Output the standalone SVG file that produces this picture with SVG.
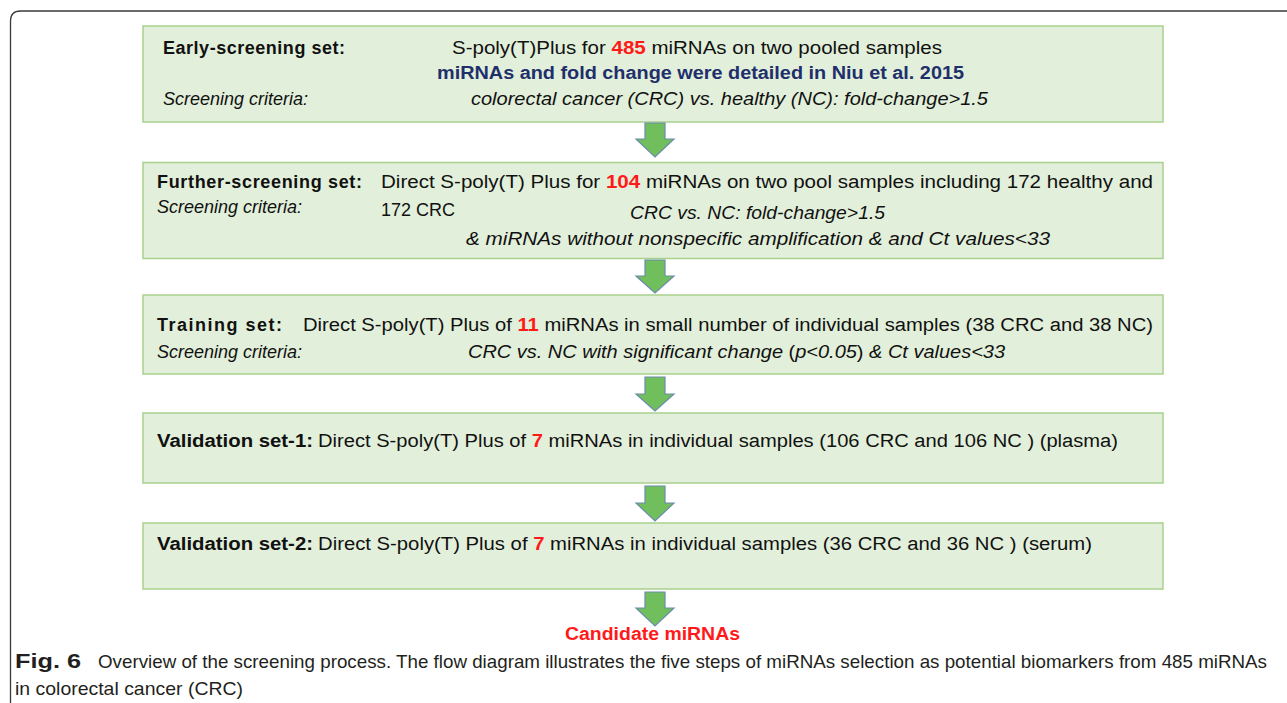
<svg xmlns="http://www.w3.org/2000/svg" width="1287" height="703" viewBox="0 0 1287 703">
<style>
text{font-family:"Liberation Sans",Arial,sans-serif;font-size:18px;fill:#111}
.b{font-weight:bold}
.i{font-style:italic}
.red{fill:#ff1a1a;font-weight:bold}
.navy{fill:#1f2f6b;font-weight:bold}
.box{fill:#e2efda;stroke:#a9d18e;stroke-width:1.5}
.arrow{fill:#71bf5c;stroke:#6a8caa;stroke-width:1.2;stroke-linejoin:miter}
.cap{fill:#231f20;font-size:19px}
.fig{font-size:21px}
</style>
<rect width="1287" height="703" fill="#fff"/>
<path d="M10.5,703 V21 Q10.5,11 20.5,11 H1287" fill="none" stroke="#3a3a3a" stroke-width="1.3"/>

<g id="early-screening">
<rect class="box" x="143" y="26" width="1020" height="96"/>
<text class="b" x="163" y="54" textLength="182" lengthAdjust="spacing">Early-screening  set:</text>
<text x="452" y="54" textLength="490" lengthAdjust="spacingAndGlyphs">S-poly(T)Plus for <tspan class="red">485</tspan> miRNAs on two pooled samples</text>
<text class="navy" x="437" y="79" textLength="527" lengthAdjust="spacingAndGlyphs">miRNAs and fold change were detailed in Niu et al. 2015</text>
<text class="i" x="163" y="105">Screening criteria:</text>
<text class="i" x="471" y="105" textLength="517" lengthAdjust="spacingAndGlyphs">colorectal cancer (CRC) vs. healthy (NC): fold-change&gt;1.5</text>
</g>

<g id="further-screening">
<rect class="box" x="143" y="162.5" width="1020" height="96"/>
<text class="b" x="157" y="188" textLength="205" lengthAdjust="spacing">Further-screening  set:</text>
<text x="381" y="188" textLength="772" lengthAdjust="spacingAndGlyphs">Direct S-poly(T) Plus for <tspan class="red">104</tspan> miRNAs on two pool samples including 172 healthy and</text>
<text class="i" x="157" y="213">Screening criteria:</text>
<text x="381" y="216">172 CRC</text>
<text class="i" x="630" y="219" textLength="255" lengthAdjust="spacingAndGlyphs">CRC vs. NC: fold-change&gt;1.5</text>
<text class="i" x="466" y="245" textLength="584" lengthAdjust="spacingAndGlyphs">&amp; miRNAs without nonspecific amplification &amp; and Ct values&lt;33</text>
</g>

<g id="training">
<rect class="box" x="143" y="295" width="1020" height="79"/>
<text class="b" x="157" y="331" textLength="125" lengthAdjust="spacing">Training  set:</text>
<text x="303" y="331" textLength="850" lengthAdjust="spacingAndGlyphs">Direct S-poly(T) Plus of <tspan class="red">11</tspan> miRNAs in small number of individual samples (38 CRC and 38 NC)</text>
<text class="i" x="157" y="358">Screening criteria:</text>
<text class="i" x="468" y="358" textLength="537" lengthAdjust="spacingAndGlyphs">CRC vs. NC with significant change <tspan font-style="normal">(</tspan>p&lt;0.05<tspan font-style="normal">)</tspan> &amp; Ct values&lt;33</text>
</g>

<g id="validation-1">
<rect class="box" x="143" y="413" width="1020" height="70"/>
<text class="b" x="157" y="447" textLength="156" lengthAdjust="spacingAndGlyphs">Validation  set-1:</text>
<text x="318" y="447" textLength="800" lengthAdjust="spacingAndGlyphs">Direct S-poly(T) Plus of <tspan class="red">7</tspan>  miRNAs in individual samples (106 CRC and 106 NC ) (plasma)</text>
</g>

<g id="validation-2">
<rect class="box" x="143" y="523" width="1020" height="66"/>
<text class="b" x="157" y="550" textLength="156" lengthAdjust="spacingAndGlyphs">Validation  set-2:</text>
<text x="318" y="550" textLength="774" lengthAdjust="spacingAndGlyphs">Direct S-poly(T) Plus of <tspan class="red">7</tspan>  miRNAs in individual samples (36 CRC and 36 NC ) (serum)</text>
</g>

<g id="candidate">
<text class="red" x="565" y="640" textLength="175" lengthAdjust="spacingAndGlyphs">Candidate  miRNAs</text>
</g>

<g id="connectors">
<path class="arrow" d="M645,123 H665 V139 H674 L655,157 L636,139 H645 Z"/>
<path class="arrow" d="M645,260 H665 V276 H674 L655,293 L636,276 H645 Z"/>
<path class="arrow" d="M645,377 H665 V394 H674 L655,411 L636,394 H645 Z"/>
<path class="arrow" d="M645,486 H665 V503 H674 L655,521 L636,503 H645 Z"/>
<path class="arrow" d="M645,592 H665 V608 H674 L655,626 L636,608 H645 Z"/>
</g>

<g id="caption">
<text class="cap b fig" x="15" y="668" textLength="66" lengthAdjust="spacingAndGlyphs">Fig. 6</text>
<text class="cap" x="98" y="668" textLength="1169" lengthAdjust="spacingAndGlyphs">Overview of the screening process. The flow diagram illustrates the five steps of miRNAs selection as potential biomarkers from 485 miRNAs</text>
<text class="cap" x="15" y="695" textLength="228" lengthAdjust="spacingAndGlyphs">in colorectal cancer (CRC)</text>
</g>
</svg>
